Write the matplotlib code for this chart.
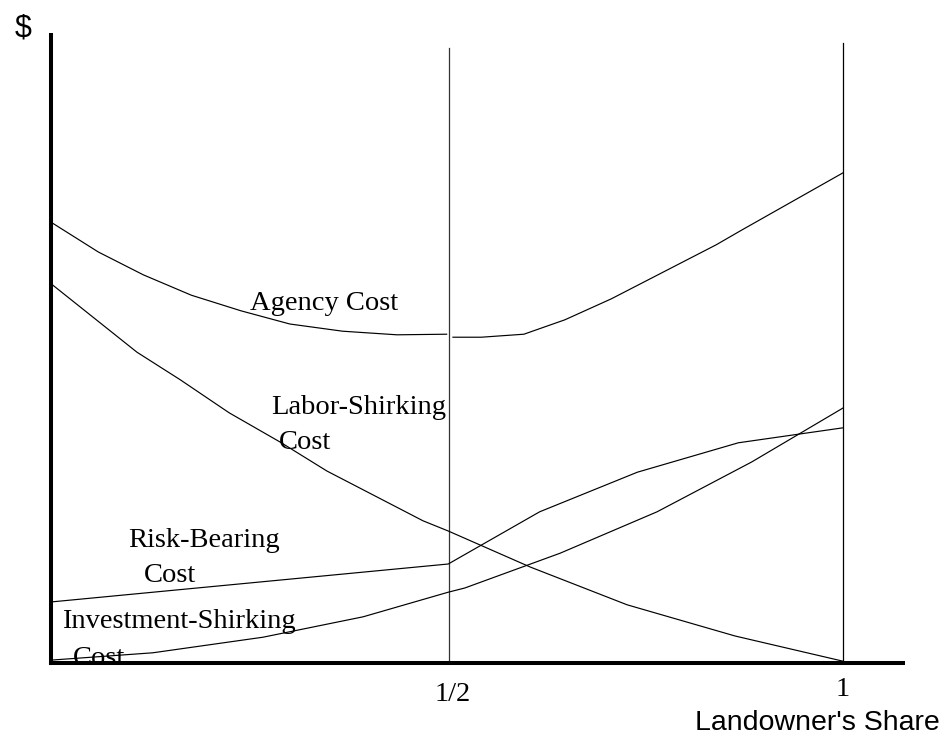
import matplotlib
matplotlib.use("Agg")
import matplotlib.pyplot as plt

# landowner's share (x) and cost in $ (arbitrary units)
agency_x1 = [-0.003, 0.055, 0.112, 0.173, 0.236, 0.298, 0.365, 0.434, 0.497]
agency_y1 = [73.3, 68.5, 64.7, 61.3, 58.7, 56.5, 55.3, 54.7, 54.8]
agency_x2 = [0.505, 0.541, 0.595, 0.647, 0.706, 0.839, 0.872, 1.0]
agency_y2 = [54.3, 54.3, 54.8, 57.2, 60.7, 69.7, 72.2, 81.7]

labor_x = [-0.003, 0.104, 0.159, 0.221, 0.286, 0.345, 0.467, 0.499, 0.603, 0.726, 0.863, 1.0]
labor_y = [63.0, 51.8, 47.2, 41.7, 36.8, 32.0, 23.7, 22.0, 16.0, 9.7, 4.5, 0.3]

risk_x = [-0.003, 0.499, 0.615, 0.739, 0.867, 1.0]
risk_y = [10.2, 16.5, 25.2, 31.8, 36.7, 39.2]

invest_x = [-0.003, 0.124, 0.264, 0.391, 0.499, 0.52, 0.641, 0.764, 0.884, 1.0]
invest_y = [0.5, 1.7, 4.3, 7.7, 11.8, 12.5, 18.3, 25.2, 33.5, 42.5]

share_ticks = [0.5, 1.0]
share_labels = ["1/2", "1"]

serif = "Liberation Serif"
sans = "Liberation Sans"

fig = plt.figure(figsize=(9.53, 7.43), dpi=100)
ax = fig.add_axes([51 / 953, 80 / 743, 852 / 953, 628 / 743])
ax.set_xlim(-0.0051, 1.0761)
ax.set_ylim(0, 104.67)

# axes: thick left and bottom lines only
for s in ["top", "right"]:
    ax.spines[s].set_visible(False)
for s in ["left", "bottom"]:
    ax.spines[s].set_linewidth(2.9)
    ax.spines[s].set_color("black")
    ax.spines[s].set_zorder(5)
ax.set_xticks([])
ax.set_yticks([])

# vertical guides at 1/2 and 1
ax.plot([0.5, 0.5], [0, 102.5], color="#333333", lw=0.9, zorder=2)
ax.plot([1.0, 1.0], [0, 103.3], color="black", lw=0.9, zorder=2)

lw = 0.85
ax.plot(agency_x1, agency_y1, color="black", lw=lw)
ax.plot(agency_x2, agency_y2, color="black", lw=lw)
ax.plot(labor_x, labor_y, color="black", lw=lw)
ax.plot(risk_x, risk_y, color="black", lw=lw)
ax.plot(invest_x, invest_y, color="black", lw=lw)

fs = 20.5
kw = dict(family=serif, fontsize=fs, va="baseline", ha="left", clip_on=False)
ax.text(0.247, 58.8, "Agency Cost", **kw)
ax.text(0.274, 41.5, "Labor-Shirking", **kw)
ax.text(0.284, 35.7, "Cost", **kw)
ax.text(0.093, 19.3, "Risk-Bearing", **kw)
ax.text(0.113, 13.5, "Cost", **kw)
ax.text(0.009, 5.8, "Investment-Shirking", **kw)
ax.text(0.023, -0.4, "Cost", zorder=1, **kw)

# share tick labels below the axis
for xv, lab, yv in zip(share_ticks, share_labels, [-5.2, -4.5]):
    ax.text(xv + (0.004 if lab == "1/2" else 0), yv, lab, family=serif, fontsize=fs,
            ha="center", va="center", clip_on=False)

ax.text(0.967, -10.0, "Landowner's Share", family=sans, fontsize=20.5,
        ha="center", va="center", clip_on=False)
ax.text(-0.040, 105.8, "$", family=sans, fontsize=22,
        ha="center", va="center", clip_on=False)

fig.savefig("out.png", dpi=100)
